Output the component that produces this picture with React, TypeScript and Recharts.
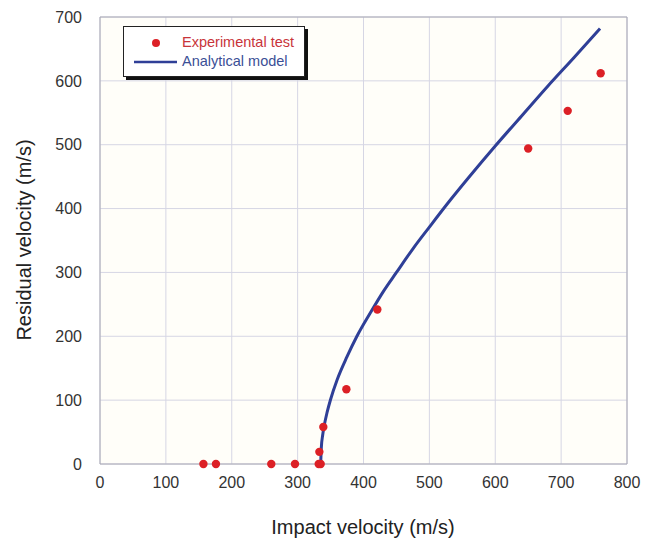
import React from 'react';
import {
  ComposedChart,
  Line,
  Scatter,
  XAxis,
  YAxis,
  CartesianGrid,
  Legend,
  ReferenceArea
} from 'recharts';

// Experimental test points (impact velocity, residual velocity)
const testImpact = [157, 176, 260, 296, 332, 335, 333, 339, 374, 421, 650, 710, 760];
const testResidual = [0, 0, 0, 0, 0, 0, 19, 58, 117, 242, 494, 553, 612];

// Analytical model curve
const modelImpact = [335, 336, 338, 340, 345, 350, 360, 375, 390, 410, 430, 450, 475, 500, 530, 560, 600, 640, 680, 720, 759];
const modelResidual = [0, 26, 45, 58, 82, 101, 132, 168, 200, 236, 270, 300, 337, 371, 411, 449, 498, 545, 592, 637, 682];

const xTicks = [0, 100, 200, 300, 400, 500, 600, 700, 800];
const yTicks = [0, 100, 200, 300, 400, 500, 600, 700];

const testData = testImpact.map((x, i) => ({ x, y: testResidual[i] }));
const modelData = modelImpact.map((x, i) => ({ x, y: modelResidual[i] }));

const FONT = '"Liberation Sans", Arial, sans-serif';
const RED = '#dc2026';
const BLUE = '#2f3f97';

const LegendBox = () => (
  <div
    style={{
      width: 180,
      height: 49,
      background: '#fff',
      border: '1px solid #222',
      boxShadow: '3px 3px 0 #111',
      fontFamily: FONT,
      fontSize: 14.5,
      position: 'relative'
    }}
  >
    <svg width={60} height={49} style={{ position: 'absolute', left: 0, top: 0 }}>
      <circle cx={32} cy={16} r={4} fill={RED} />
      <line x1={10} y1={35} x2={53} y2={35} stroke={BLUE} strokeWidth={2.5} />
    </svg>
    <div style={{ position: 'absolute', left: 58, top: 7, color: '#c8343a', whiteSpace: 'nowrap' }}>
      Experimental test
    </div>
    <div style={{ position: 'absolute', left: 58, top: 26, color: '#3b4f96', whiteSpace: 'nowrap' }}>
      Analytical model
    </div>
  </div>
);

const App: React.FC = () => {
  return (
    <div style={{ position: 'absolute', left: 0, top: 0, width: 664, height: 544, background: '#fff' }}>
      <ComposedChart
        width={664}
        height={544}
        margin={{ top: 17, right: 37, bottom: 0, left: 0 }}
        style={{ fontFamily: FONT }}
      >
        <CartesianGrid stroke="#d6d6e4" strokeWidth={1} fill="#fffef9" />
        <ReferenceArea x1={0} x2={800} y1={0} y2={700} fill="none" stroke="#a8a8b4" strokeWidth={1} />
        <XAxis
          type="number"
          dataKey="x"
          domain={[0, 800]}
          ticks={xTicks}
          height={80}
          axisLine={false}
          tickLine={false}
          tickSize={6}
          tickMargin={7}
          tick={{ fill: '#333', fontSize: 16, fontFamily: FONT }}
          label={{
            content: () => (
              <text x={363} y={527} textAnchor="middle" dominantBaseline="central" fill="#222" fontSize={20} fontFamily={FONT}>
                Impact velocity (m/s)
              </text>
            )
          }}
        />
        <YAxis
          type="number"
          dataKey="y"
          domain={[0, 700]}
          ticks={yTicks}
          width={100}
          axisLine={false}
          tickLine={false}
          tickSize={8}
          tickMargin={10}
          tick={{ fill: '#333', fontSize: 16, fontFamily: FONT }}
          label={{
            content: () => (
              <text
                x={24}
                y={240}
                transform="rotate(-90 24 240)"
                textAnchor="middle"
                dominantBaseline="central"
                fill="#222"
                fontSize={20}
                fontFamily={FONT}
              >
                Residual velocity (m/s)
              </text>
            )
          }}
        />
        <Legend
          layout="vertical"
          align="center"
          verticalAlign="middle"
          wrapperStyle={{ position: 'absolute', left: 123, top: 26, width: 184, height: 53 }}
          content={() => <LegendBox />}
        />
        <Line
          data={modelData}
          dataKey="y"
          type="monotone"
          stroke={BLUE}
          strokeWidth={3}
          dot={false}
          activeDot={false}
          isAnimationActive={false}
          name="Analytical model"
        />
        <Scatter
          data={testData}
          dataKey="y"
          fill={RED}
          shape={(p: any) => <circle cx={p.cx} cy={p.cy} r={4.2} fill={RED} />}
          isAnimationActive={false}
          name="Experimental test"
        />
      </ComposedChart>
    </div>
  );
};

export default App;
